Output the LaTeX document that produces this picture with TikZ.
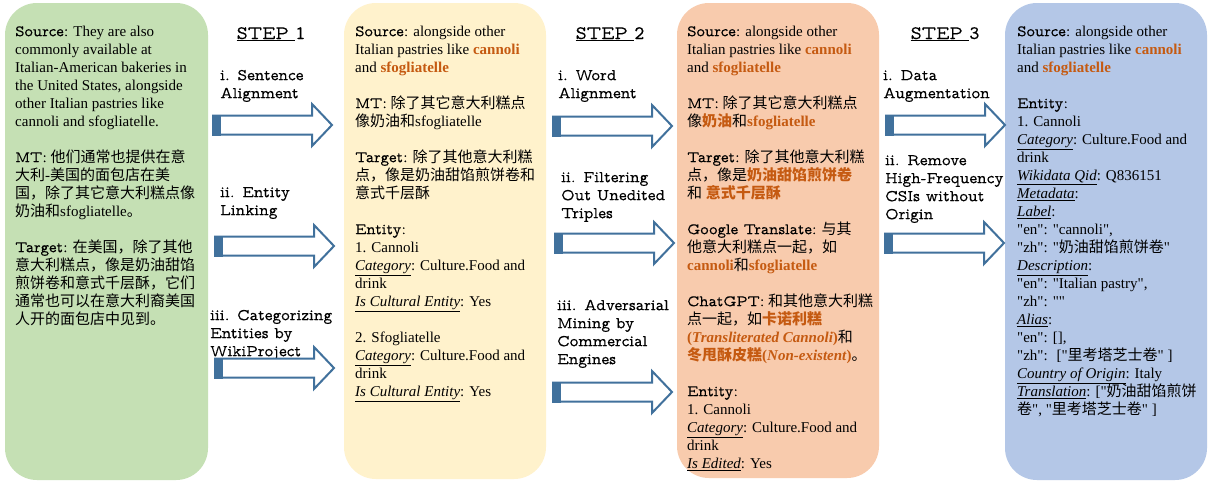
\documentclass[tikz,border=0pt]{standalone}
\usepackage{fontspec}
\setmainfont{Liberation Serif}[Ligatures=TeXOff]
\newfontfamily\cjk{Noto Sans CJK SC}
\newfontfamily\tw{lmmonoprop10-regular.otf}[FakeBold=0.25]
\definecolor{pgreen}{HTML}{C5E0B4}
\definecolor{pyellow}{HTML}{FFF2CC}
\definecolor{porange}{HTML}{F8CBAD}
\definecolor{pblue}{HTML}{B4C7E7}
\definecolor{hl}{HTML}{C55A11}
\definecolor{arrowblue}{HTML}{41719C}
\newcommand\zh[1]{{\cjk #1}}
\newcommand\lab[1]{{\tw\fontsize{16}{18}\selectfont #1}}
\newcommand\hi[1]{{\bfseries\color{hl}#1}}
\newcommand\fld[1]{\underline{\textit{#1}}}
\newcommand\st{\rule{0pt}{12pt}}
\tikzset{
  panel/.style={rounded corners=32pt, draw=none},
  paneltext/.style={anchor=north west, inner sep=0pt, align=left, font=\fontsize{15}{18}\selectfont},
  steplabel/.style={anchor=north west, inner sep=0pt, align=left, font=\tw\fontsize{16.5}{18}\selectfont},
  stephead/.style={anchor=base, inner sep=0pt, font=\tw\fontsize{19}{22}\selectfont},
  blockarrow/.pic={
    \draw[line width=2pt, draw=arrowblue, fill=white, line join=miter]
      (0,-9.5) -- (99,-9.5) -- (99,-21) -- (119,0) -- (99,21) -- (99,9.5) -- (0,9.5) -- cycle;
    \fill[arrowblue] (-1,-10.5) rectangle (8,10.5);
  }
}
\begin{document}
\begin{tikzpicture}[x=1pt,y=-1pt]
\useasboundingbox (0,0) rectangle (1209,482);
\fill[white] (0,0) rectangle (1209,482);
% panels
\fill[pgreen,panel] (5,3) rectangle (208,480);
\fill[pyellow,panel] (344,3) rectangle (546,479);
\fill[porange,panel] (677,3) rectangle (879,478);
\fill[pblue,panel] (1005,3) rectangle (1207,480);

\node[paneltext] (p1) at (15,24) {\st\lab{Source:} They are also\\
commonly available at\\
Italian-American bakeries in\\
the United States, alongside\\
other Italian pastries like\\
cannoli and sfogliatelle.\\[18pt]
\lab{MT:} \zh{他们通常也提供在意}\\
\zh{大利}-\zh{美国的面包店在美}\\
\zh{国，除了其它意大利糕点像}\\
\zh{奶油和}sfogliatelle\zh{。}\\[18pt]
\lab{Target:} \zh{在美国，除了其他}\\
\zh{意大利糕点，像是奶油甜馅}\\
\zh{煎饼卷和意式千层酥，它们}\\
\zh{通常也可以在意大利裔美国}\\
\zh{人开的面包店中见到。}};

\node[paneltext] (p2) at (355,24) {\st\lab{Source:} alongside other\\
Italian pastries like \hi{cannoli}\\
and \hi{sfogliatelle}\\[18pt]
\lab{MT:} \zh{除了其它意大利糕点}\\
\zh{像奶油和}sfogliatelle\\[18pt]
\lab{Target:} \zh{除了其他意大利糕}\\
\zh{点，像是奶油甜馅煎饼卷和}\\
\zh{意式千层酥}\\[18pt]
\lab{Entity:}\\
1. Cannoli\\
\fld{Category}: Culture.Food and\\
drink\\
\fld{Is Cultural Entity}: Yes\\[18pt]
2. Sfogliatelle\\
\fld{Category}: Culture.Food and\\
drink\\
\fld{Is Cultural Entity}: Yes};

\node[paneltext] (p3) at (687,24) {\st\lab{Source:} alongside other\\
Italian pastries like \hi{cannoli}\\
and \hi{sfogliatelle}\\[18pt]
\lab{MT:} \zh{除了其它意大利糕点}\\
\zh{像}\hi{\zh{奶油}}\zh{和}\hi{sfogliatelle}\\[18pt]
\lab{Target:} \zh{除了其他意大利糕}\\
\zh{点，像是}\hi{\zh{奶油甜馅煎饼卷}}\\
\zh{和} \hi{\zh{意式千层酥}}\\[18pt]
\lab{Google Translate:} \zh{与其}\\
\zh{他意大利糕点一起，如}\\
\hi{cannoli}\zh{和}\hi{sfogliatelle}\\[18pt]
\lab{ChatGPT:} \zh{和其他意大利糕}\\
\zh{点一起，如}\hi{\zh{卡诺利糕}}\\
\hi{(\textit{Transliterated Cannoli})}\zh{和}\\
\hi{\zh{冬甩酥皮糕}(\textit{Non-existent})}\zh{。}\\[18pt]
\lab{Entity:}\\
1. Cannoli\\
\fld{Category}: Culture.Food and\\
drink\\
\fld{Is Edited}: Yes};

\node[paneltext] (p4) at (1017,24) {\st\lab{Source:} alongside other\\
Italian pastries like \hi{cannoli}\\
and \hi{sfogliatelle}\\[18pt]
\lab{Entity:}\\
1. Cannoli\\
\fld{Category}: Culture.Food and\\
drink\\
\fld{Wikidata Qid}: Q836151\\
\fld{Metadata}:\\
\fld{Label}:\\
"en": "cannoli",\\
"zh": "\zh{奶油甜馅煎饼卷}"\\
\fld{Description}:\\
"en": "Italian pastry",\\
"zh": ""\\
\fld{Alias}:\\
"en": [],\\
"zh":~ ["\zh{里考塔芝士卷}" ]\\
\fld{Country of Origin}: Italy\\
\fld{Translation}: ["\zh{奶油甜馅煎饼}\\
\zh{卷}", "\zh{里考塔芝士卷}" ]};

% step headings
\node[stephead] (h1) at (271,39) {\underline{STEP\ }1};
\node[stephead] (h2) at (610,39) {\underline{STEP\ }2};
\node[stephead] (h3) at (945,39) {\underline{STEP\ }3};

% step labels
\node[steplabel] (s1a) at (220,68) {\st i. Sentence\\Alignment};
\node[steplabel] (s1b) at (220,185) {\st ii. Entity\\Linking};
\node[steplabel] (s1c) at (210,308) {\st iii. Categorizing\\Entities by\\WikiProject};
\node[steplabel] (s2a) at (558,68) {\st i. Word\\Alignment};
\node[steplabel] (s2b) at (561,170) {\st ii. Filtering\\Out Unedited\\Triples};
\node[steplabel] (s2c) at (557,298) {\st iii. Adversarial\\Mining by\\Commercial\\Engines};
\node[steplabel] (s3a) at (883,68) {\st i. Data\\Augmentation};
\node[steplabel] (s3b) at (885,153) {\st ii. Remove\\High-Frequency\\CSIs without\\Origin};

% arrows
\pic at (213,125) {blockarrow};
\pic at (215,246) {blockarrow};
\pic at (215,368) {blockarrow};
\pic at (553,126) {blockarrow};
\pic at (555,243) {blockarrow};
\pic at (553,392) {blockarrow};
\pic at (886,125) {blockarrow};
\pic at (885,243) {blockarrow};
\end{tikzpicture}
\end{document}
